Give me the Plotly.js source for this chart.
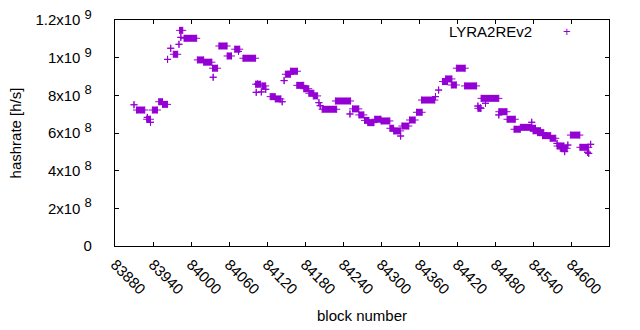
<!DOCTYPE html>
<html>
<head>
<meta charset="utf-8">
<script src="https://cdn.plot.ly/plotly-3.0.1.min.js"></script>
<style>html,body{margin:0;padding:0;background:#fff;}#chart{width:640px;height:330px;}</style>
</head>
<body>
<div id="chart"></div>
<script>
// Runs of constant hashrate: first block, last block, hashrate [h/s]
var runStart = [83910,83914,83931,83930,83936,83939,83949,83955,83963,83968,83972,83981,83982,83984,83989,84010,84020,84034,84035,84044,84057,84069,84075,84082,84105,84102,84103,84111,84112,84118,84125,84133,84144,84147,84149,84157,84167,84178,84186,84193,84202,84204,84207,84228,84251,84255,84265,84274,84279,84290,84300,84314,84320,84331,84333,84345,84356,84364,84386,84391,84397,84402,84411,84419,84432,84453,84453,84458,84465,84457,84486,84486,84499,84510,84520,84536,84538,84540,84547,84555,84567,84578,84578,84583,84590,84595,84599,84614,84631,84628,84626];
var runEnd   = [83910,83927,83931,83936,83936,83947,83955,83963,83963,83968,83979,83981,83987,83984,84009,84020,84033,84042,84035,84057,84064,84077,84075,84102,84105,84110,84103,84111,84118,84118,84133,84142,84144,84147,84157,84168,84178,84186,84194,84200,84202,84204,84230,84252,84251,84265,84273,84281,84289,84300,84314,84320,84331,84331,84344,84354,84365,84385,84386,84391,84405,84412,84419,84433,84451,84453,84458,84486,84465,84457,84499,84486,84512,84520,84536,84544,84538,84552,84557,84568,84576,84578,84589,84594,84590,84595,84614,84628,84631,84628,84626];
var hashrate = [7.5e8,7.22e8,6.83e8,6.73e8,6.57e8,7.22e8,7.66e8,7.52e8,9.91e8,1.05e9,1.018e9,1.071e9,1.145e9,1.108e9,1.103e9,9.88e8,9.76e8,9.44e8,8.96e8,1.062e9,1.009e9,1.045e9,1.033e9,9.97e8,8.6e8,8.59e8,8.16e8,8.18e8,8.5e8,8.32e8,7.93e8,7.81e8,7.66e8,8.78e8,9.12e8,9.28e8,8.53e8,8.35e8,8.11e8,7.97e8,7.61e8,7.45e8,7.26e8,7.7e8,7.01e8,7.28e8,6.96e8,6.67e8,6.55e8,6.73e8,6.64e8,6.25e8,6.11e8,5.84e8,6.37e8,6.69e8,7.1e8,7.75e8,7.93e8,8.28e8,8.73e8,8.87e8,8.55e8,9.44e8,8.5e8,7.43e8,7.31e8,7.84e8,7.58e8,7.33e8,7.13e8,6.96e8,6.73e8,6.2e8,6.3e8,6.25e8,6.57e8,6.12e8,6.02e8,5.86e8,5.72e8,5.45e8,5.31e8,5.19e8,5.01e8,5.36e8,5.89e8,5.24e8,5.4e8,4.92e8,4.98e8];

var xTicks = [83880,83940,84000,84060,84120,84180,84240,84300,84360,84420,84480,84540,84600,84660];
var yTicks = [0,2e8,4e8,6e8,8e8,1e9,1.2e9];
var yMant = ['0','2x10','4x10','6x10','8x10','1x10','1.2x10'];
var yExp  = ['','8','8','8','8','9','9'];
var seriesName = 'LYRA2REv2';
var xTitle = 'block number';
var yTitle = 'hashrate [h/s]';

var color = '#9400d3';
var xs = [], ys = [];
for (var i = 0; i < runStart.length; i++) {
  xs.push(runStart[i], runEnd[i], null);
  ys.push(hashrate[i], hashrate[i], null);
}
var yTickText = yMant.map(function (m, k) {
  return (yExp[k] ? m + ' <sup><span style="font-size:13px">' + yExp[k] + '</span></sup>' : m) + '&nbsp;';
});
var trace = {
  x: xs, y: ys, type: 'scatter', mode: 'lines+markers',
  connectgaps: false,
  line: {color: color, width: 7},
  marker: {symbol: 'cross-thin', size: 5, color: color, line: {color: color, width: 1}},
  showlegend: false, hoverinfo: 'none'
};
var font = {family: 'Liberation Sans, Arial, sans-serif', size: 15, color: '#000'};
var layout = {
  width: 640, height: 330,
  margin: {l: 115, r: 31, t: 20, b: 84},
  paper_bgcolor: '#fff', plot_bgcolor: '#fff',
  font: font,
  showlegend: false,
  xaxis: {
    range: [83880, 84660], tickvals: xTicks, ticktext: xTicks.map(String),
    tickangle: 45, ticks: 'inside', ticklen: 4, tickcolor: '#000',
    showline: true, linecolor: '#000', linewidth: 1, mirror: 'ticks',
    showgrid: false, zeroline: false, tickfont: font, ticklabelstandoff: 3,
    title: {text: xTitle, font: font, standoff: 14}
  },
  yaxis: {
    range: [0, 1.2e9], tickvals: yTicks, ticktext: yTickText,
    ticks: 'inside', ticklen: 4, tickcolor: '#000',
    showline: true, linecolor: '#000', linewidth: 1, mirror: 'ticks',
    showgrid: false, zeroline: false, tickfont: font, ticklabelstandoff: 15,
    title: {text: yTitle, font: font, standoff: 10}
  },
  annotations: [
    {xref: 'paper', yref: 'paper', x: 0.848, y: 0.947, xanchor: 'right', yanchor: 'middle',
     text: seriesName, showarrow: false, font: font},
    {xref: 'paper', yref: 'paper', x: 0.915, y: 0.947, xanchor: 'center', yanchor: 'middle',
     text: '+', showarrow: false, font: {family: font.family, size: 13, color: color}}
  ]
};
Plotly.newPlot('chart', [trace], layout, {staticPlot: true, displayModeBar: false});
</script>
</body>
</html>
